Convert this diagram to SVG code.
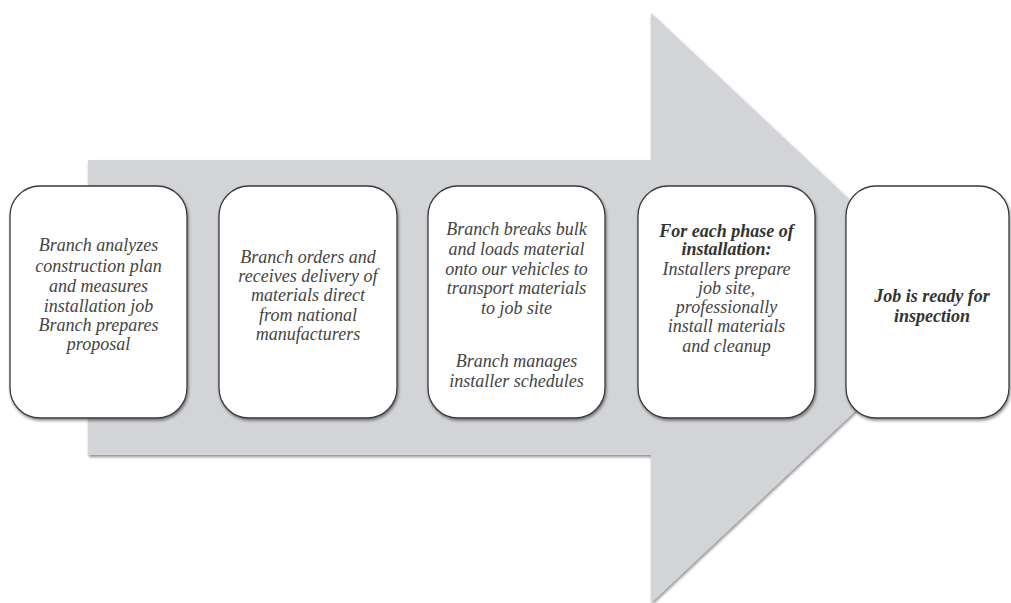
<svg xmlns="http://www.w3.org/2000/svg" width="1011" height="603" viewBox="0 0 1011 603">
<defs>
<filter id="sh" x="-10%" y="-10%" width="130%" height="130%">
<feGaussianBlur in="SourceAlpha" stdDeviation="1.5"/>
<feOffset dx="1" dy="2" result="b"/>
<feComponentTransfer><feFuncA type="linear" slope="0.45"/></feComponentTransfer>
<feMerge><feMergeNode/><feMergeNode in="SourceGraphic"/></feMerge>
</filter>
</defs>
<style>
.box{fill:#ffffff;stroke:#3a3a3a;stroke-width:1.3}
.t{font-family:"Liberation Serif",serif;font-style:italic;font-size:18px;fill:#444444;text-anchor:middle}
.b{font-weight:bold;fill:#333333}
.arrow{fill:#d3d4d7}
</style>
<rect width="1011" height="603" fill="#ffffff"/>
<g id="connectors">
<path class="arrow" filter="url(#sh)" d="M88,160 L651,160 L651,13 L965,308 L651,603 L651,455 L88,455 Z"/>
</g>
<g id="node1">
<rect class="box" filter="url(#sh)" x="10" y="186" width="177" height="232" rx="30"/>
<text class="t" x="98.5" y="251">Branch analyzes</text>
<text class="t" x="98.5" y="272">construction plan</text>
<text class="t" x="98.5" y="292">and measures</text>
<text class="t" x="98.5" y="312">installation job</text>
<text class="t" x="98.5" y="331">Branch prepares</text>
<text class="t" x="98.5" y="350">proposal</text>
</g>
<g id="node2">
<rect class="box" filter="url(#sh)" x="219" y="186" width="178" height="232" rx="30"/>
<text class="t" x="308" y="263">Branch orders and</text>
<text class="t" x="308" y="282">receives delivery of</text>
<text class="t" x="308" y="301">materials direct</text>
<text class="t" x="308" y="321">from national</text>
<text class="t" x="308" y="340">manufacturers</text>
</g>
<g id="node3">
<rect class="box" filter="url(#sh)" x="428" y="186" width="177" height="232" rx="30"/>
<text class="t" x="516.5" y="235">Branch breaks bulk</text>
<text class="t" x="516.5" y="255">and loads material</text>
<text class="t" x="516.5" y="275">onto our vehicles to</text>
<text class="t" x="516.5" y="294">transport materials</text>
<text class="t" x="516.5" y="314">to job site</text>
<text class="t" x="516.5" y="367">Branch manages</text>
<text class="t" x="516.5" y="387">installer schedules</text>
</g>
<g id="node4">
<rect class="box" filter="url(#sh)" x="638" y="186" width="177" height="232" rx="30"/>
<text class="t b" x="726.5" y="237">For each phase of</text>
<text class="t b" x="726.5" y="255">installation:</text>
<text class="t" x="726.5" y="275">Installers prepare</text>
<text class="t" x="726.5" y="294">job site,</text>
<text class="t" x="726.5" y="313">professionally</text>
<text class="t" x="726.5" y="332">install materials</text>
<text class="t" x="726.5" y="352">and cleanup</text>
</g>
<g id="node5">
<rect class="box" filter="url(#sh)" x="846" y="186" width="163" height="232" rx="30"/>
<text class="t b" x="932" y="302">Job is ready for</text>
<text class="t b" x="932" y="322">inspection</text>
</g>
</svg>
